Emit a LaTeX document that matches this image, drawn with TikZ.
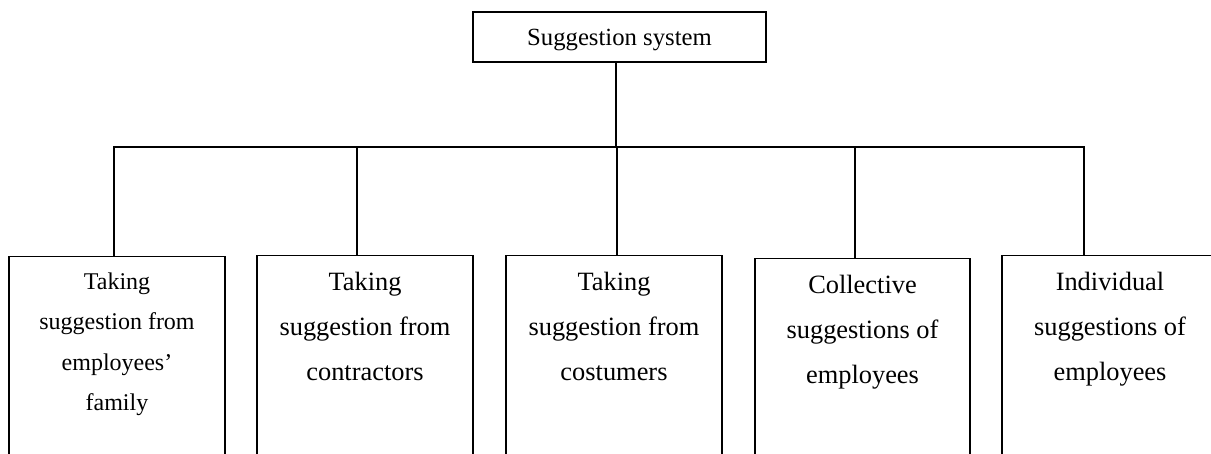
\documentclass[tikz,border=0pt]{standalone}
\usepackage{fontspec}
\setmainfont{Liberation Serif}
\begin{document}
\begin{tikzpicture}[x=1pt,y=-1pt,
  ln/.style={line width=1.2pt, black},
  topbox/.style={draw, ln, inner sep=0pt, minimum width=293pt, minimum height=50pt, text depth=0pt,
     font=\fontsize{24.7}{30}\selectfont},
  leafbox/.style={draw, ln, inner sep=0pt, minimum width=216pt, minimum height=230pt, anchor=north},
  leaftxt/.style={inner sep=0pt, anchor=north, align=center, font=\fontsize{26.4}{45}\selectfont},
  leaftxtsmall/.style={inner sep=0pt, anchor=north, align=center, font=\fontsize{24}{40.5}\selectfont}
]
\useasboundingbox (0,0) rectangle (1211,454);
\clip (0,0) rectangle (1211,454);
\fill[white] (0,0) rectangle (1211,454);

\node[topbox] (top) at (619.5,37) {Suggestion system};

\node[leafbox] (b1) at (117,256) {};
\node[leafbox] (b2) at (365,255) {};
\node[leafbox] (b3) at (614,255) {};
\node[leafbox, minimum width=215pt] (b4) at (862.5,258) {};
\node[leafbox] (b5) at (1110,255) {};

\node[leaftxtsmall] (t1) at ([yshift=-16.6pt]b1.north) {Taking\\suggestion from\\employees’\\family};
\node[leaftxt] (t2) at ([yshift=-17pt]b2.north) {Taking\\suggestion from\\contractors};
\node[leaftxt] (t3) at ([yshift=-17pt]b3.north) {Taking\\suggestion from\\costumers};
\node[leaftxt] (t4) at ([yshift=-17pt]b4.north) {Collective\\suggestions of\\employees};
\node[leaftxt] (t5) at ([yshift=-17pt]b5.north) {Individual\\suggestions of\\employees};

\coordinate (j) at (616,147);
\coordinate (d1) at (114,147);
\coordinate (d2) at (357,147);
\coordinate (d3) at (617,147);
\coordinate (d4) at (855,147);
\coordinate (d5) at (1084,147);

\draw[ln] ([xshift=-3.5pt]top.south) -- (j);
\draw[ln] (d1 |- b1.north) -- (d1) -- (d5) -- (d5 |- b5.north);
\draw[ln] (d2) -- (d2 |- b2.north);
\draw[ln] (d3) -- (d3 |- b3.north);
\draw[ln] (d4) -- (d4 |- b4.north);
\end{tikzpicture}
\end{document}
